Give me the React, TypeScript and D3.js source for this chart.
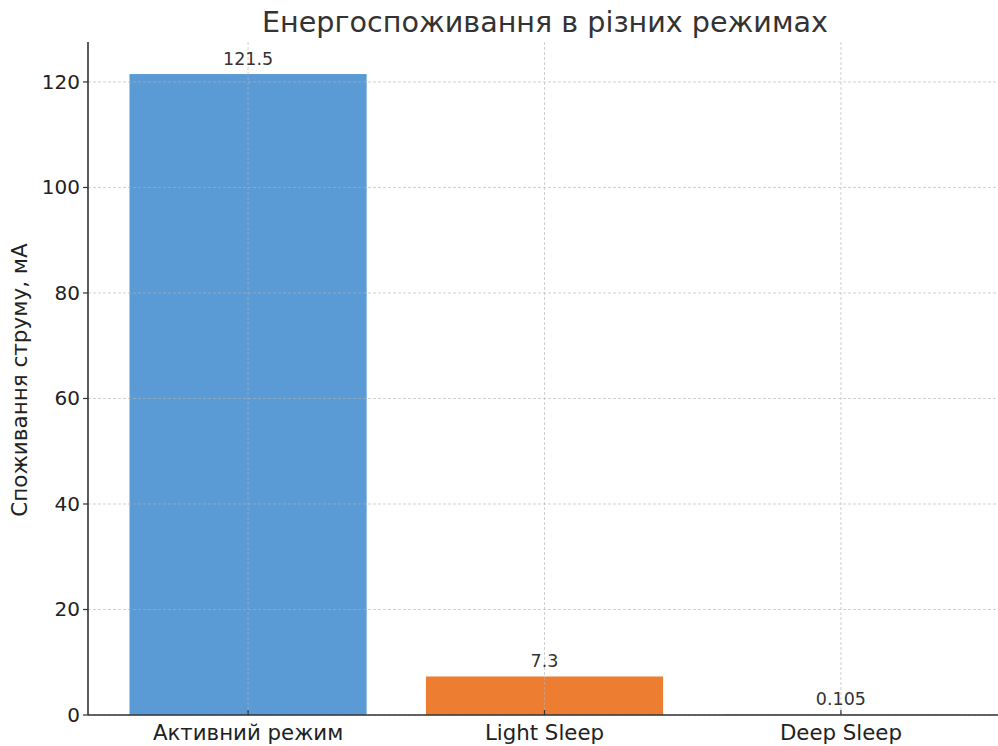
import React from "react";
import * as d3 from "d3";

const categories = ["Активний режим", "Light Sleep", "Deep Sleep"];
const values = [121.5, 7.3, 0.105];
const valueLabels = ["121.5", "7.3", "0.105"];
const colors = ["#5B9BD5", "#ED7D31", "#A5A5A5"];
const yTicks = [0, 20, 40, 60, 80, 100, 120];

const W = 998;
const H = 746;
const left = 88;
const bottom = 715;
const top = 42;

export default function App() {
  const x = d3.scaleLinear().domain([-0.54, 2.54]).range([left, 1001]);
  const y = d3.scaleLinear().domain([0, 127.575]).range([bottom, top]);
  const bw = x(0.4) - x(-0.4);
  const font = "DejaVu Sans, sans-serif";
  return (
    <svg width={W} height={H} style={{ position: "absolute", left: 0, top: 0, background: "#fff" }}>
      <rect width={W} height={H} fill="#fff" />
      {categories.map((c, i) => (
        <rect key={c} x={x(i) - bw / 2} y={y(values[i])} width={bw} height={bottom - y(values[i])} fill={colors[i]} />
      ))}
      {yTicks.map((t) => (
        <line key={"gy" + t} x1={left} x2={W} y1={y(t)} y2={y(t)} stroke="#b0b0b0" strokeOpacity={0.6} strokeDasharray="3,2" strokeWidth={1} />
      ))}
      {categories.map((c, i) => (
        <line key={"gx" + c} x1={x(i)} x2={x(i)} y1={top} y2={bottom} stroke="#b0b0b0" strokeOpacity={0.6} strokeDasharray="3,2" strokeWidth={1} />
      ))}
      <line x1={left} x2={left} y1={top} y2={bottom} stroke="#333" strokeWidth={1.6} />
      <line x1={left} x2={W} y1={bottom} y2={bottom} stroke="#333" strokeWidth={1.6} />
      {yTicks.map((t) => (
        <g key={"ty" + t}>
          <line x1={left - 5} x2={left} y1={y(t)} y2={y(t)} stroke="#333" strokeWidth={1.2} />
          <text x={left - 8} y={y(t)} dy="0.35em" textAnchor="end" fontFamily={font} fontSize={20} fill="#222">{t}</text>
        </g>
      ))}
      {categories.map((c, i) => (
        <g key={"tx" + c}>
          <line x1={x(i)} x2={x(i)} y1={bottom} y2={bottom - 5} stroke="#333" strokeWidth={1.2} />
          <text x={x(i)} y={740} textAnchor="middle" fontFamily={font} fontSize={21.3} fill="#222">{c}</text>
          <text x={x(i)} y={y(values[i]) - 9} textAnchor="middle" fontFamily={font} fontSize={17.5} fill="#333">{valueLabels[i]}</text>
        </g>
      ))}
      <text x={545} y={32} textAnchor="middle" fontFamily={font} fontSize={28.6} fill="#333">Енергоспоживання в різних режимах</text>
      <text transform={`translate(27,380) rotate(-90)`} textAnchor="middle" fontFamily={font} fontSize={21.5} fill="#222">Споживання струму, мА</text>
    </svg>
  );
}
